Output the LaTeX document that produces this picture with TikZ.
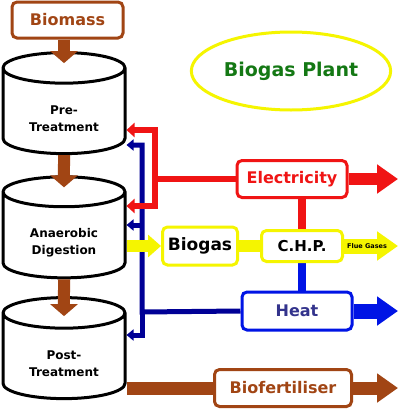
\documentclass[tikz,border=0pt]{standalone}
\usepackage{fontspec}
\setmainfont{DejaVu Sans}
\usetikzlibrary{positioning}
\usetikzlibrary{calc}
\usetikzlibrary{shapes.geometric}
\usetikzlibrary{arrows.meta}
\usetikzlibrary{backgrounds}
\definecolor{bark}{rgb}{.63,.27,.08}
\definecolor{flame}{rgb}{.94,.08,.08}
\definecolor{lemon}{rgb}{.96,.96,0}
\definecolor{navy}{rgb}{0,0,.59}
\definecolor{vivid}{rgb}{0,.08,.9}
\definecolor{leaf}{rgb}{.08,.47,.08}
\definecolor{slate}{rgb}{.2,.2,.55}

\begin{document}
\begin{tikzpicture}[x=1pt, y=-1pt,
  box/.style={rectangle, rounded corners=5pt, line width=3pt, fill=white, inner sep=0pt, font=\bfseries\fontsize{16}{18}\selectfont},
  tank/.style={cylinder, shape border rotate=90, shape aspect=0.4, draw=black, line width=3pt, fill=white, minimum width=122pt, minimum height=101pt, align=center, text height=35pt, font=\bfseries\fontsize{12}{17}\selectfont},
  pipe/.style={line width=#1, line join=miter},
  bigtip/.style={-{Triangle[width=28pt,length=21pt]}}]
	\path[use as bounding box] (0,0) rectangle (400,413);
	% stages
	\node[box, draw=bark, text=bark, minimum width=111pt, minimum height=36pt](biomass) at (67.5,20){Biomass};
	\node[tank](pre) at (64,114){Pre-\\Treatment};
	\node[tank](ad) at (64,238){Anaerobic\\Digestion};
	\node[tank](post) at (64,359){Post-\\Treatment};
	\node[ellipse, draw=lemon, line width=3pt, text=leaf, minimum width=184pt, minimum height=78pt, font=\bfseries\fontsize{19}{21}\selectfont](plant) at (291,71){Biogas Plant};
	% outputs
	\node[box, draw=flame, text=flame, minimum width=110pt, minimum height=37pt](elec) at (292,179){Electricity};
	\node[box, draw=lemon, minimum width=75pt, minimum height=38pt, font=\bfseries\fontsize{17}{19}\selectfont](biogas) at (200,246){Biogas};
	\node[box, draw=lemon, minimum width=81pt, minimum height=31pt, font=\bfseries\fontsize{15}{17}\selectfont](chp) at (302,246){C.H.P.};
	\node[box, draw=vivid, text=slate, minimum width=110pt, minimum height=38pt](heat) at (297,311){Heat};
	\node[box, draw=bark, text=bark, minimum width=137pt, minimum height=37pt](biofert) at (283,388){Biofertiliser};
	\coordinate (rj) at (155,179);
	\coordinate (bj) at (142,312);
	\coordinate (elecend) at (398,179);
	\coordinate (flueend) at (398,246);
	\coordinate (heatend) at (398,311);
	\coordinate (fertend) at (398,388);
	% feed line
	\draw[pipe=12pt, bark, -{Triangle[width=27pt,length=12pt]}] (biomass.south -| pre.north) -- ($(pre.north)+(0,12)$);
	\draw[pipe=12pt, bark, -{Triangle[width=27pt,length=12pt]}] (pre.south) -- ($(ad.north)+(0,12)$);
	\draw[pipe=12pt, bark, -{Triangle[width=27pt,length=12pt]}] (ad.south) -- ($(post.north)+(0,20)$);
	\begin{scope}[on background layer]
	\fill[white] (0,0) rectangle (400,413);
	% heat return
	\draw[pipe=5pt, navy, -{Triangle[width=11pt,length=7pt]}] (heat.west) -- (bj) |- (pre.east |- 0,145);
	\draw[pipe=5pt, navy, -{Triangle[width=11pt,length=7pt]}] (bj) |- (post.east |- 0,335);
	\draw[pipe=5pt, navy, -{Triangle[width=11pt,length=7pt]}] (bj |- 0,225) -- (ad.east |- 0,225);
	% power return
	\draw[pipe=6pt, flame, -{Triangle[width=14pt,length=8pt]}] (elec.west) -- (rj) |- (pre.east |- 0,130);
	\draw[pipe=6pt, flame, -{Triangle[width=14pt,length=8pt]}] (rj) |- (ad.east |- 0,206);
	% gas line
	\draw[pipe=12pt, lemon, -{Triangle[width=22pt,length=13pt]}] (ad.east |- biogas.west) -- (biogas.west);
	\draw[pipe=12pt, lemon] (biogas.east) -- (chp.west);
	\draw[pipe=15pt, lemon, bigtip] (chp.east) -- (flueend);
	\draw[pipe=8pt, flame] (chp.north) -- (chp.north |- elec.south);
	\draw[pipe=8pt, vivid] (chp.south) -- (chp.south |- heat.north);
	\draw[pipe=12pt, flame, bigtip] (elec.east) -- (elecend);
	\draw[pipe=15pt, vivid, bigtip] (heat.east) -- (heatend);
	\draw[pipe=13pt, bark] (post.east |- biofert.west) -- (biofert.west);
	\draw[pipe=13pt, bark, bigtip] (biofert.east) -- (fertend);
	\end{scope}
	\node[font=\bfseries\fontsize{6.5}{7}\selectfont, inner sep=0pt](flue) at (367,246){Flue Gases};
\end{tikzpicture}
\end{document}
